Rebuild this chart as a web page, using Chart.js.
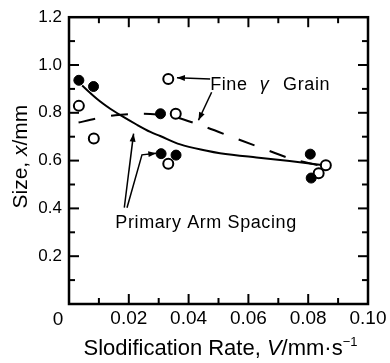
<!DOCTYPE html>
<html>
<head>
<meta charset="utf-8">
<script src="https://cdn.jsdelivr.net/npm/chart.js@4.4.1/dist/chart.umd.min.js"></script>
<style>
html, body { margin: 0; padding: 0; background: #fff; }
canvas { display: block; }
</style>
</head>
<body>
<canvas id="grafica" width="390" height="363"></canvas>
<script>
// valores
const filled_rate = [0.0033, 0.0082, 0.0306, 0.0308, 0.0358, 0.0807, 0.0810];
const filled_size = [0.936, 0.910, 0.796, 0.629, 0.623, 0.627, 0.527];
const open_rate = [0.0033, 0.0083, 0.0332, 0.0357, 0.0332, 0.0835, 0.0859];
const open_size = [0.829, 0.692, 0.941, 0.796, 0.587, 0.547, 0.581];
const arm_curve_rate = [0.0044, 0.0094, 0.0138, 0.0172, 0.0227, 0.0272, 0.0305, 0.0372, 0.0461, 0.0505, 0.0627, 0.0738, 0.0845];
const arm_curve_size = [0.914, 0.858, 0.817, 0.790, 0.750, 0.720, 0.703, 0.668, 0.641, 0.631, 0.613, 0.598, 0.582];
const grain_curve_rate = [0.0032, 0.0088, 0.0155, 0.0215, 0.0272, 0.0340, 0.0455, 0.0572, 0.0682, 0.0745, 0.0835];
const grain_curve_size = [0.759, 0.775, 0.790, 0.795, 0.795, 0.788, 0.741, 0.686, 0.635, 0.607, 0.580];
const x_tick_labels = ['0', '0.02', '0.04', '0.06', '0.08', '0.10'];
const y_tick_labels = ['0.2', '0.4', '0.6', '0.8', '1.0', '1.2'];

document.addEventListener('DOMContentLoaded', function () {
    const ctx = document.getElementById('grafica').getContext('2d');
    const familia = "'Liberation Sans', Arial, sans-serif";

    function to_points(xs, ys) {
        return xs.map((x, i) => ({ x: x, y: ys[i] }));
    }

    function draw_arrow(c, pts) {
        c.beginPath();
        c.moveTo(pts[0][0], pts[0][1]);
        for (let i = 1; i < pts.length; i++) c.lineTo(pts[i][0], pts[i][1]);
        c.stroke();
        const [x1, y1] = pts[pts.length - 2];
        const [x2, y2] = pts[pts.length - 1];
        const ang = Math.atan2(y2 - y1, x2 - x1);
        const largo = 8, ancho = 3;
        c.beginPath();
        c.moveTo(x2, y2);
        c.lineTo(x2 - largo * Math.cos(ang) + ancho * Math.sin(ang), y2 - largo * Math.sin(ang) - ancho * Math.cos(ang));
        c.lineTo(x2 - largo * Math.cos(ang) - ancho * Math.sin(ang), y2 - largo * Math.sin(ang) + ancho * Math.cos(ang));
        c.closePath();
        c.fill();
    }

    // dibuja trozos de texto con estilos distintos uno tras otro
    function draw_runs(c, runs, x, y, centrar) {
        let total = 0;
        runs.forEach(r => { c.font = r.font; total += c.measureText(r.text).width; });
        let pos = centrar ? x - total / 2 : x;
        runs.forEach(r => {
            c.font = r.font;
            c.fillText(r.text, pos, y + (r.dy || 0));
            pos += c.measureText(r.text).width;
        });
    }

    const anotaciones = {
        id: 'anotaciones',
        afterDatasetsDraw(chart) {
            const c = chart.ctx, sx = chart.scales.x, sy = chart.scales.y;
            const p = (x, y) => [sx.getPixelForValue(x), sy.getPixelForValue(y)];
            c.save();
            c.fillStyle = '#000';
            c.strokeStyle = '#000';
            c.lineWidth = 1.5;
            draw_arrow(c, [p(0.0472, 0.941), p(0.0361, 0.947)]);
            draw_arrow(c, [p(0.0477, 0.886), p(0.0433, 0.769)]);
            draw_arrow(c, [p(0.0185, 0.403), p(0.0216, 0.713)]);
            draw_arrow(c, [p(0.0194, 0.403), p(0.0244, 0.624), p(0.0292, 0.631)]);

            c.textBaseline = 'alphabetic';
            c.textAlign = 'left';
            c.letterSpacing = '0.6px';
            c.font = '18px ' + familia;
            let q = p(0.0472, 0.897);
            c.fillText('Fine', q[0], q[1]);
            q = p(0.0638, 0.897);
            c.font = 'italic 18px ' + familia;
            c.fillText('γ', q[0], q[1]);
            q = p(0.0716, 0.897);
            c.font = '18px ' + familia;
            c.fillText('Grain', q[0], q[1]);
            q = p(0.0155, 0.320);
            c.fillText('Primary Arm Spacing', q[0], q[1]);
            c.restore();
        }
    };

    const marco = {
        id: 'marco',
        afterDraw(chart) {
            const c = chart.ctx, a = chart.chartArea, sx = chart.scales.x, sy = chart.scales.y;
            function linea(x1, y1, x2, y2) {
                c.beginPath(); c.moveTo(x1, y1); c.lineTo(x2, y2); c.stroke();
            }
            c.save();
            c.strokeStyle = '#000';
            c.fillStyle = '#000';
            c.lineWidth = 2;
            sx.ticks.forEach(t => {
                const x = sx.getPixelForValue(t.value);
                if (x <= a.left + 1 || x >= a.right - 1) return;
                const len = Math.round(t.value * 100) % 2 === 0 ? 10 : 6;
                linea(x, a.bottom, x, a.bottom - len);
                linea(x, a.top, x, a.top + len);
            });
            sy.ticks.forEach(t => {
                const y = sy.getPixelForValue(t.value);
                if (y <= a.top + 1 || y >= a.bottom - 1) return;
                const len = Math.round(t.value * 10) % 2 === 0 ? 10 : 6;
                linea(a.left, y, a.left + len, y);
                linea(a.right, y, a.right - len, y);
            });
            c.lineWidth = 2.5;
            c.strokeRect(a.left, a.top, a.right - a.left, a.bottom - a.top);

            // el cero compartido del origen
            c.font = '19px ' + familia;
            c.textAlign = 'center';
            c.textBaseline = 'alphabetic';
            c.fillText(x_tick_labels[0], a.left - 11, a.bottom + 21);

            c.textAlign = 'left';
            draw_runs(c, [
                { text: 'Slodification Rate, ', font: '22px ' + familia },
                { text: 'V', font: 'italic 22px ' + familia },
                { text: '/mm·s', font: '22px ' + familia },
                { text: '−1', font: '13px ' + familia, dy: -9 }
            ], (a.left + a.right) / 2 + 2, a.bottom + 51, true);

            c.translate(27, (a.top + a.bottom) / 2 - 4);
            c.rotate(-Math.PI / 2);
            draw_runs(c, [
                { text: 'Size, ', font: '21px ' + familia },
                { text: 'x', font: 'italic 21px ' + familia },
                { text: '/mm', font: '21px ' + familia }
            ], 0, 0, true);
            c.restore();
        }
    };

    new Chart(ctx, {
        type: 'scatter',
        data: {
            datasets: [{
                label: 'Primary arm spacing',
                data: to_points(filled_rate, filled_size),
                pointRadius: 5,
                pointBackgroundColor: '#000',
                pointBorderColor: '#000',
                pointBorderWidth: 1,
                order: 0
            }, {
                label: 'Fine grain',
                data: to_points(open_rate, open_size),
                pointRadius: 5,
                pointBackgroundColor: '#fff',
                pointBorderColor: '#000',
                pointBorderWidth: 2,
                order: 0
            }, {
                label: 'Arm spacing curve',
                data: to_points(arm_curve_rate, arm_curve_size),
                showLine: true,
                borderColor: '#000',
                borderWidth: 2,
                pointRadius: 0,
                tension: 0.35,
                order: 1
            }, {
                label: 'Grain curve',
                data: to_points(grain_curve_rate, grain_curve_size),
                showLine: true,
                borderColor: '#000',
                borderWidth: 2,
                borderDash: [17, 16],
                pointRadius: 0,
                tension: 0.3,
                order: 1
            }]
        },
        options: {
            responsive: false,
            animation: false,
            devicePixelRatio: 1,
            events: [],
            layout: { padding: { top: 14, right: 22, left: 0, bottom: 0 } },
            plugins: {
                legend: { display: false },
                tooltip: { enabled: false }
            },
            scales: {
                x: {
                    type: 'linear',
                    min: 0,
                    max: 0.1,
                    grid: { display: false, drawTicks: false },
                    border: { display: false },
                    ticks: {
                        stepSize: 0.01,
                        autoSkip: false,
                        maxRotation: 0,
                        padding: 3,
                        color: '#000',
                        font: { family: familia, size: 19 },
                        callback: function (value) {
                            const key = Number(value).toFixed(2);
                            return key !== '0.00' && x_tick_labels.includes(key) ? key : '';
                        }
                    },
                    afterFit: function (scale) { scale.height = 59; }
                },
                y: {
                    type: 'linear',
                    min: 0,
                    max: 1.2,
                    grid: { display: false, drawTicks: false },
                    border: { display: false },
                    ticks: {
                        stepSize: 0.1,
                        autoSkip: false,
                        padding: 7,
                        color: '#000',
                        font: { family: familia, size: 17 },
                        callback: function (value) {
                            const key = Number(value).toFixed(1);
                            return y_tick_labels.includes(key) ? key : '';
                        }
                    },
                    afterFit: function (scale) { scale.width = 69; }
                }
            }
        },
        plugins: [anotaciones, marco]
    });
});
</script>
</body>
</html>
